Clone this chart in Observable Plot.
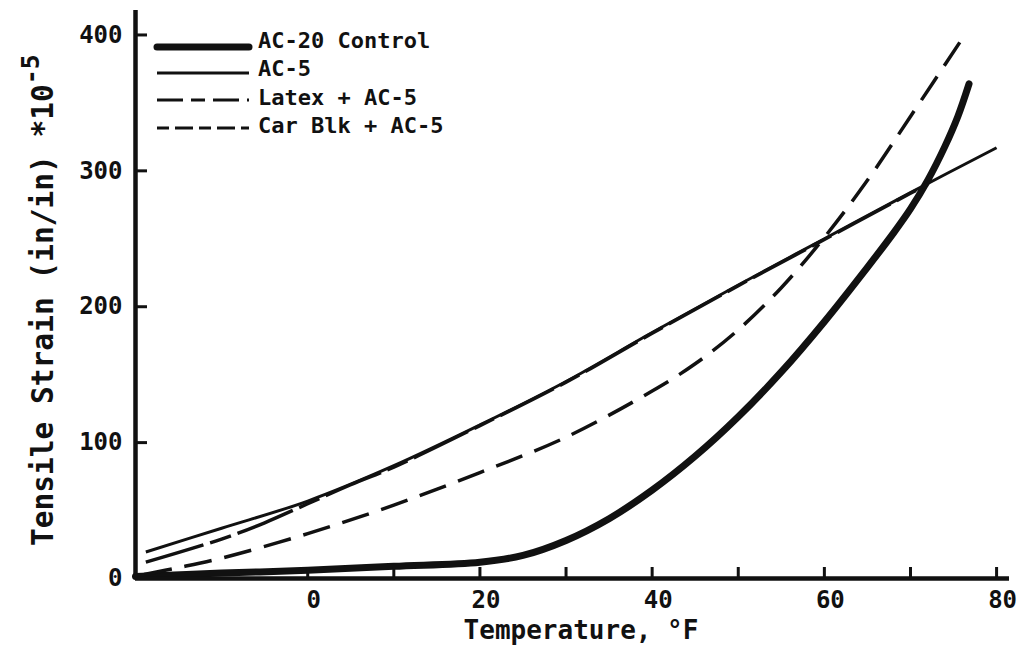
<!DOCTYPE html>
<html><head><meta charset="utf-8">
<script src="https://cdn.jsdelivr.net/npm/d3@7"></script>
<script src="https://cdn.jsdelivr.net/npm/@observablehq/plot@0.6"></script>
<style>
html,body{margin:0;padding:0;background:#fff;}
#chart{width:1023px;height:652px;overflow:hidden;}
svg{display:block;}
</style></head><body><div id="chart"></div>
<script>
const FONT = "'DejaVu Sans Mono', 'Liberation Mono', monospace";
const INK = "#111";

// Series (temperature °F, tensile strain *1e-5 in/in)
const ac20Temp   = [-20, -10, 0, 10, 20, 25, 30, 35, 40, 45, 50, 55, 60, 65, 68, 70, 72, 74, 75.5, 76.8];
const ac20Strain = [1.5, 4, 6, 9, 12, 17, 28, 44, 65, 90, 119, 152, 189, 229, 254, 272, 293, 318, 340, 364];

const ac5Temp   = [-18.8, -10, 0, 10, 20, 30, 40, 50, 60, 70, 80];
const ac5Strain = [19.5, 37, 57, 83, 113, 145, 181, 216, 250, 284, 317];

const latexTemp   = [-19, -15, -10, 0, 10, 20, 30, 40, 45, 50, 55, 60, 65, 70, 76.3];
const latexStrain = [3, 8, 15, 33, 54, 78, 104, 138, 158, 183, 214, 251, 293, 340, 400];

const carBlkTemp   = [-18.8, -10, -5, 0, 5, 10, 20, 30, 40, 50, 60, 70, 72];
const carBlkStrain = [12, 29, 41, 55, 69, 82, 112.5, 144.5, 180.5, 215.5, 249.5, 283.5, 290];

const seriesNames = ["AC-20 Control", "AC-5", "Latex + AC-5", "Car Blk + AC-5"];

const xTickLabels = [0, 20, 40, 60, 80];
const xMinorTicks = [10, 30, 50, 70];
const yTickLabels = [0, 100, 200, 300, 400];

const xTitle = "Temperature, °F";
const yTitle = "Tensile Strain (in/in) *10";
const yTitleExp = "-5";

const rows = (t, s) => t.map((x, i) => ({t: x, s: s[i]}));

const styles = [
  {strokeWidth: 7, dash: null},
  {strokeWidth: 3, dash: null},
  {strokeWidth: 3.5, dash: "28,13"},
  {strokeWidth: 3.5, dash: "60,7,22,7"}
];

const data = [
  rows(ac20Temp, ac20Strain),
  rows(ac5Temp, ac5Strain),
  rows(latexTemp, latexStrain),
  rows(carBlkTemp, carBlkStrain)
];

const lineMarks = data.map((d, i) => Plot.line(d, {
  x: "t", y: "s", curve: "catmull-rom",
  stroke: INK, strokeWidth: styles[i].strokeWidth,
  strokeDasharray: styles[i].dash || undefined,
  strokeLinecap: i === 0 ? "round" : "butt"
}));

const txt = {fontFamily: FONT, fontWeight: "bold", fill: INK};

const svg = Plot.plot({
  width: 1023, height: 652,
  marginLeft: 135, marginRight: 14, marginTop: 10, marginBottom: 74,
  x: {domain: [-20, 81.5], axis: null},
  y: {domain: [0, 418], axis: null},
  style: {background: "#fff", overflow: "visible"},
  marks: [
    ...lineMarks,
    Plot.ruleY([0], {stroke: INK, strokeWidth: 4.5}),
    Plot.ruleX([-20], {stroke: INK, strokeWidth: 4.5}),
    Plot.ruleX([...xTickLabels, ...xMinorTicks], {x: d => d, y1: 0, y2: 0, insetBottom: 11, stroke: INK, strokeWidth: 3}),
    Plot.ruleY(yTickLabels.slice(1), {y: d => d, x1: -20, x2: -20, insetRight: -12, stroke: INK, strokeWidth: 3}),
    Plot.text(xTickLabels, {x: d => d, y: 0, text: d => String(d), dy: 22, dx: 6, fontSize: 24, ...txt}),
    Plot.text(yTickLabels, {x: -20, y: d => d, text: d => String(d), dx: -13, textAnchor: "end", fontSize: 24, ...txt})
  ]
});
document.getElementById("chart").appendChild(svg);

const root = d3.select(svg);

// x-axis title
root.append("text")
  .attr("x", 581).attr("y", 639)
  .attr("text-anchor", "middle")
  .attr("font-family", FONT).attr("font-weight", "bold").attr("font-size", 26).attr("fill", INK)
  .text(xTitle);

// y-axis title with superscript
const yt = root.append("text")
  .attr("transform", "translate(53,546) rotate(-90)")
  .attr("text-anchor", "start")
  .attr("font-family", FONT).attr("font-weight", "bold").attr("font-size", 29.5).attr("fill", INK);
yt.append("tspan").text(yTitle);
yt.append("tspan").attr("dy", -14).attr("font-size", 25).text(yTitleExp);

// legend
const legLineY = [47, 73, 100, 128];
const legTextY = [42, 70, 99, 127];
const legend = root.append("g");
seriesNames.forEach((name, i) => {
  legend.append("line")
    .attr("x1", 157).attr("x2", 249)
    .attr("y1", legLineY[i]).attr("y2", legLineY[i])
    .attr("stroke", INK)
    .attr("stroke-width", i === 0 ? 7 : 3)
    .attr("stroke-dasharray", i === 2 ? "26,8,14,8" : i === 3 ? "12,6,18,6" : null)
    .attr("stroke-linecap", i === 0 ? "round" : "butt");
  legend.append("text")
    .attr("x", 258).attr("y", legTextY[i])
    .attr("text-anchor", "start")
    .attr("dominant-baseline", "middle")
    .attr("font-family", FONT).attr("font-weight", "bold").attr("font-size", 22).attr("fill", INK)
    .text(name);
});
</script>
</body></html>
